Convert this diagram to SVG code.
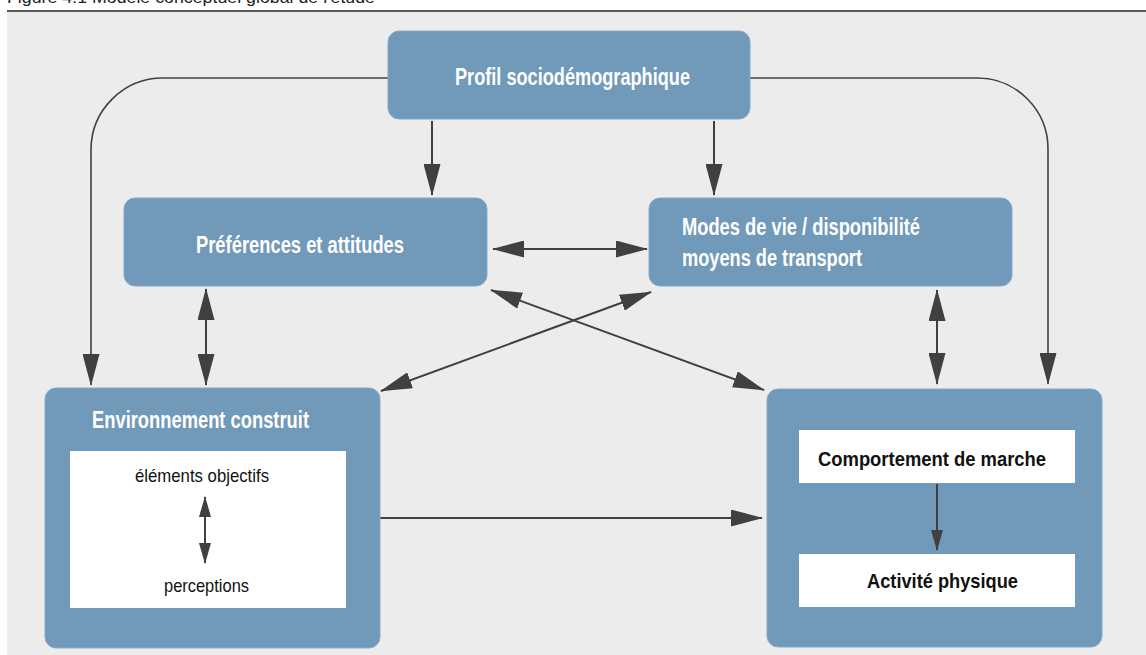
<svg xmlns="http://www.w3.org/2000/svg" width="1146" height="655" viewBox="0 0 1146 655">
<defs>
<style>
.box{fill:#7199BA;stroke:#86AACA;stroke-width:1}
.inner{fill:#ffffff}
.wt{font-family:"Liberation Sans",Arial,sans-serif;font-weight:bold;fill:#ffffff;font-size:23px}
.bt{font-family:"Liberation Sans",Arial,sans-serif;font-weight:bold;fill:#111111;font-size:21px}
.nt{font-family:"Liberation Sans",Arial,sans-serif;fill:#111111;font-size:19px}
.ln{fill:none;stroke:#404040;stroke-width:2}
.cv{fill:none;stroke:#404040;stroke-width:1.6}
</style>
<marker id="ah" viewBox="0 0 32 17" markerUnits="userSpaceOnUse" markerWidth="32" markerHeight="17" refX="31" refY="8.5" orient="auto-start-reverse">
<path d="M0,0 L32,8.5 L0,17 Z" fill="#404040"/>
</marker>
<marker id="as" viewBox="0 0 21 12" markerUnits="userSpaceOnUse" markerWidth="21" markerHeight="12" refX="20" refY="6" orient="auto-start-reverse">
<path d="M0,0 L21,6 L0,12 Z" fill="#404040"/>
</marker>
</defs>
<rect x="0" y="0" width="1146" height="655" fill="#ffffff"/>
<text x="7" y="3" font-family="'Liberation Sans',Arial,sans-serif" font-size="16" fill="#222" textLength="368" lengthAdjust="spacingAndGlyphs">Figure 4.1 Modèle conceptuel global de l'étude</text>
<rect x="7" y="12" width="1139" height="643" fill="#EBECEB"/>
<line x1="7" y1="11" x2="1146" y2="11" stroke="#222" stroke-width="1.5"/>

<g id="connectors">
<path class="cv" d="M388,78 H163 A72,72 0 0 0 91,150 V385" marker-end="url(#ah)"/>
<path class="cv" d="M750,78 H977 A71,71 0 0 1 1048,149 V384" marker-end="url(#ah)"/>
<line class="ln" x1="432" y1="121" x2="432" y2="195" marker-end="url(#ah)"/>
<line class="ln" x1="714" y1="121" x2="714" y2="195" marker-end="url(#ah)"/>
<line class="ln" x1="493" y1="249" x2="647" y2="249" marker-start="url(#ah)" marker-end="url(#ah)"/>
<line class="ln" x1="206" y1="289" x2="206" y2="385" marker-start="url(#ah)" marker-end="url(#ah)"/>
<line class="ln" x1="937" y1="290" x2="937" y2="384" marker-start="url(#ah)" marker-end="url(#ah)"/>
<line class="ln" x1="491" y1="290" x2="764" y2="390" marker-start="url(#ah)" marker-end="url(#ah)"/>
<line class="ln" x1="651" y1="292" x2="381" y2="391" marker-start="url(#ah)" marker-end="url(#ah)"/>
<line class="ln" x1="380" y1="518" x2="762" y2="518" marker-end="url(#ah)"/>
</g>

<g id="profil">
<rect class="box" x="388" y="31" width="362" height="88" rx="11"/>
<text class="wt" x="455" y="85" textLength="235" lengthAdjust="spacingAndGlyphs">Profil sociodémographique</text>
</g>

<g id="preferences">
<rect class="box" x="124" y="198" width="363" height="88" rx="11"/>
<text class="wt" x="196" y="253" textLength="208" lengthAdjust="spacingAndGlyphs">Préférences et attitudes</text>
</g>

<g id="modes">
<rect class="box" x="649" y="198" width="363" height="88" rx="11"/>
<text class="wt" x="682" y="235" textLength="238" lengthAdjust="spacingAndGlyphs">Modes de vie / disponibilité</text>
<text class="wt" x="682" y="266" textLength="180" lengthAdjust="spacingAndGlyphs">moyens de transport</text>
</g>

<g id="environnement">
<rect class="box" x="45" y="388" width="335" height="260" rx="11"/>
<text class="wt" x="92" y="428" textLength="217" lengthAdjust="spacingAndGlyphs">Environnement construit</text>
<rect class="inner" x="70" y="451" width="276" height="157"/>
<text class="nt" x="135" y="482" textLength="134" lengthAdjust="spacingAndGlyphs">éléments objectifs</text>
<line class="ln" x1="205" y1="497" x2="205" y2="563" marker-start="url(#as)" marker-end="url(#as)"/>
<text class="nt" x="164" y="592" textLength="85" lengthAdjust="spacingAndGlyphs">perceptions</text>
</g>

<g id="comportement">
<rect class="box" x="767" y="389" width="335" height="258" rx="11"/>
<rect class="inner" x="799" y="430" width="276" height="53"/>
<text class="bt" x="818" y="466" textLength="228" lengthAdjust="spacingAndGlyphs">Comportement de marche</text>
<line class="ln" x1="937" y1="484" x2="937" y2="550" marker-end="url(#as)"/>
<rect class="inner" x="799" y="554" width="276" height="53"/>
<text class="bt" x="867" y="588" textLength="151" lengthAdjust="spacingAndGlyphs">Activité physique</text>
</g>
</svg>
